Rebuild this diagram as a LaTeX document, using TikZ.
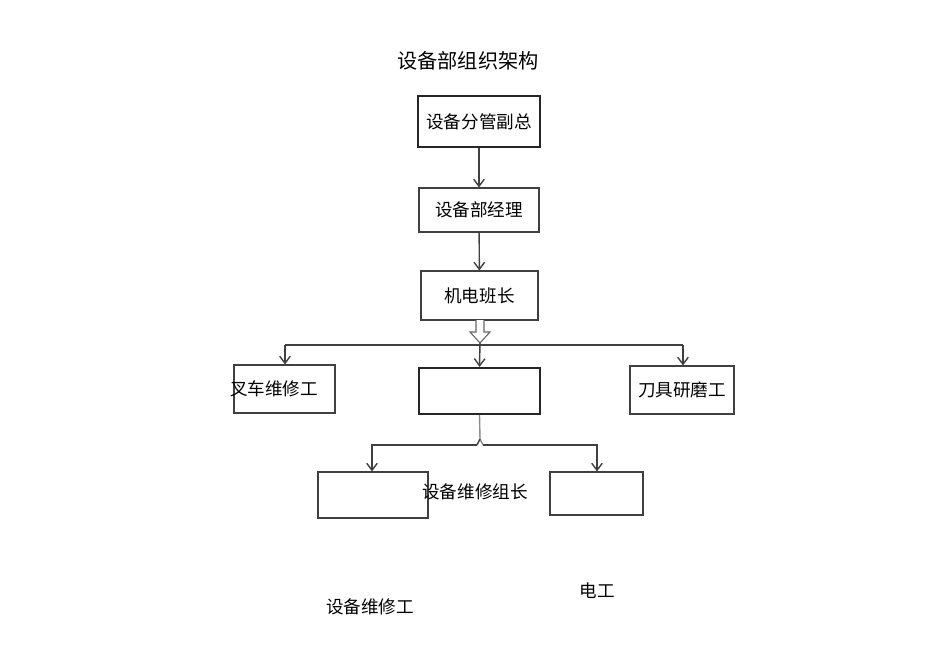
\documentclass[tikz,border=0pt]{standalone}
\usepackage{fontspec}
\setmainfont{Noto Sans CJK SC}
\usetikzlibrary{arrows.meta}
\tikzset{
    box/.style={draw=black!75, line width=0.6pt, minimum width=#1, inner sep=0pt, font=\fontsize{10}{12}\selectfont},
    bbox/.style={box=#1, line width=1.3pt, draw=black!85},
    link/.style={draw=black!75, line width=0.8pt, -{Straight Barb[length=4pt,width=6pt]}}
}
\begin{document}
\begin{tikzpicture}[x=0.02cm,y=-0.02cm]
    \useasboundingbox (0,0) rectangle (950,672);

    % Title
    \node (title) at (468,61) {\fontsize{11.5}{13}\selectfont 设备部组织架构};

    % Top chain
    \node [bbox=122\pgflinewidth, minimum width=2.44cm, minimum height=1.02cm] (vp) at (479,121.5) {设备分管副总};
    \node [box, minimum width=2.4cm, minimum height=0.88cm] (mgr) at (479,210) {设备部经理};
    \node [box, minimum width=2.34cm, minimum height=0.98cm] (lead) at (479.5,295.5) {机电班长};

    \draw [link] (vp) -- (mgr);
    \draw [link] (mgr) -- (lead);

    % Hollow arrow
    \draw [black!60, fill=white, line width=0.6pt] (476,320) -- (476,332) -- (470,332) -- (480,343) -- (490,332) -- (484,332) -- (484,320);

    % Second row
    \node [box, minimum width=2.02cm, minimum height=0.96cm] (fork) at (284.5,389) {\hspace*{-1.2em}叉车维修工};
    \node [bbox, minimum width=2.42cm, minimum height=0.92cm] (mid) at (479.5,391) {};
    \node [box, minimum width=2.08cm, minimum height=0.96cm] (tool) at (682,390) {刀具研磨工};

    \coordinate (hl) at (285,345);
    \coordinate (hr) at (683,345);
    \draw [draw=black!75, line width=0.8pt] (hl) -- (hr);
    \draw [link] (hl) -- (fork.north -| hl);
    \draw [link] (480,343) -- (mid.north);
    \draw [link] (hr) -- (tool.north -| hr);

    % Third row
    \node [box, minimum width=2.2cm, minimum height=0.92cm] (rep) at (373,495) {};
    \node [box, minimum width=1.86cm, minimum height=0.86cm] (elec) at (596.5,493.5) {};
    \draw [draw=black!45, line width=0.8pt] (mid.south) -- (480,439) -- (483,445);
    \draw [draw=black!75, line width=0.8pt] (477,445) -- (480,439);
    \draw [link] (477,445) -- (372,445) -- (rep.north -| 372,0);
    \draw [link] (483,445) -- (597,445) -- (elec.north -| 597,0);

    % Loose labels
    \node [font=\fontsize{10}{12}\selectfont] (replead) at (475,492) {设备维修组长};
    \node [font=\fontsize{10}{12}\selectfont] (eleclab) at (597,591) {电工};
    \node [font=\fontsize{10}{12}\selectfont] (replab) at (370,607) {设备维修工};
\end{tikzpicture}
\end{document}
